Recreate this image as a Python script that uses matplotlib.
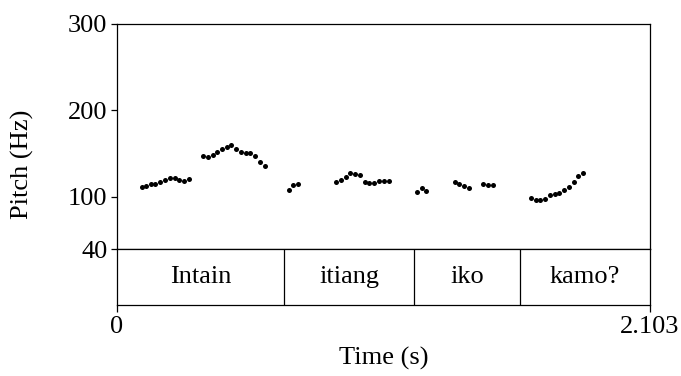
import numpy as np
import matplotlib
matplotlib.use("Agg")
import matplotlib.pyplot as plt

plt.rcParams['font.family'] = ['Liberation Serif', 'DejaVu Serif']

# pitch track (s, Hz)
times = [0.098, 0.114, 0.133, 0.151, 0.170, 0.189, 0.209, 0.228, 0.246, 0.264, 0.284,
         0.341, 0.359, 0.378, 0.396, 0.414, 0.433, 0.451, 0.471, 0.489, 0.508, 0.526,
         0.544, 0.564, 0.584,
         0.678, 0.696, 0.715,
         0.864, 0.883, 0.902, 0.921, 0.939, 0.959, 0.977, 0.996, 1.014, 1.034, 1.052, 1.072,
         1.183, 1.202, 1.221,
         1.333, 1.351, 1.371, 1.389,
         1.445, 1.465, 1.484,
         1.634, 1.652, 1.670, 1.690, 1.709, 1.727, 1.745, 1.764, 1.784, 1.802, 1.820, 1.839]
pitch = [111.1, 113.0, 114.9, 115.3, 117.2, 119.9, 122.2, 122.2, 119.2, 118.7, 120.4,
         146.9, 146.4, 148.7, 152.2, 155.3, 158.0, 159.6, 155.6, 152.2, 150.3, 150.3,
         146.9, 140.3, 135.7,
         108.0, 113.8, 115.3,
         117.2, 119.9, 123.0, 128.0, 126.8, 125.0, 117.6, 115.7, 116.1, 118.4, 118.1, 118.1,
         106.1, 110.7, 106.9,
         116.9, 115.0, 113.0, 110.0,
         115.0, 114.1, 114.1,
         98.5, 96.8, 96.5, 98.0, 101.9, 103.4, 104.9, 107.7, 111.8, 117.2, 124.5, 127.3]

t_end = 2.103
f_min, f_max = 40, 300
y_ticks = [40, 100, 200, 300]

# word tier
bounds = [0.0, 0.660, 1.173, 1.590, t_end]
words = ["Intain", "itiang", "iko", "kamo?"]

W, H = 681, 376
fig = plt.figure(figsize=(W/100, H/100), dpi=100)

L, R = 117, 650
top, mid, bot = 23.5, 249, 305.3
ax = fig.add_axes([L/W, (H-mid)/H, (R-L)/W, (mid-top)/H])
tg = fig.add_axes([L/W, (H-bot)/H, (R-L)/W, (bot-mid)/H])

fs = 19
lw = 0.9

ax.plot(times, pitch, 'o', color='black', markersize=3.6, markeredgewidth=0)
ax.set_xlim(0, t_end)
ax.set_ylim(f_min, f_max)
ax.set_yticks(y_ticks)
ax.set_yticklabels([str(v) for v in y_ticks], fontsize=fs)
ax.set_xticks([])
ax.tick_params(axis='y', direction='out', length=4.3, width=lw, pad=2.5)
for s in ax.spines.values():
    s.set_linewidth(lw)

tg.set_xlim(0, t_end)
tg.set_ylim(0, 1)
tg.set_yticks([])
for b in bounds[1:-1]:
    tg.axvline(b, color='black', linewidth=lw)
for i, w in enumerate(words):
    tg.text((bounds[i] + bounds[i+1]) / 2, 0.5, w, ha='center', va='center', fontsize=fs)
tg.set_xticks([0, t_end])
tg.set_xticklabels(["0", "2.103"], fontsize=fs)
tg.tick_params(axis='x', direction='out', length=5, width=lw, pad=3)
for s in tg.spines.values():
    s.set_linewidth(lw)

fig.text((L + R) / 2 / W, 1 - 358/H, "Time (s)", ha='center', va='center', fontsize=fs)
fig.text(22.5/W, 1 - (top + bot) / 2 / H, "Pitch (Hz)", ha='center', va='center',
         rotation=90, fontsize=fs)

fig.savefig("out.png", dpi=100)
